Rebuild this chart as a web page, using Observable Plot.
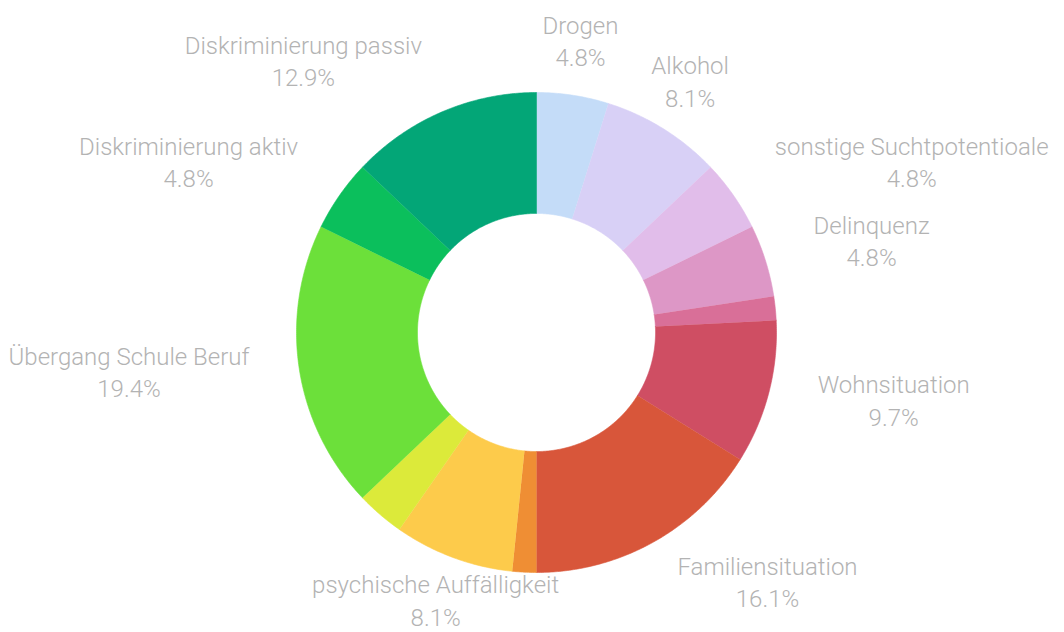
<!DOCTYPE html>
<html><head><meta charset="utf-8">
<script src="https://cdn.jsdelivr.net/npm/d3@7"></script>
<script src="https://cdn.jsdelivr.net/npm/@observablehq/plot@0.6"></script>
<style>body{margin:0;background:#fff;} #chart svg{display:block;}</style>
</head><body><div id="chart"></div>
<script>
// ---- data ----
const categories = ["Drogen","Alkohol","sonstige Suchtpotentioale","Delinquenz","weitere (1)","Wohnsituation","Familiensituation","weitere (2)","psychische Auffälligkeit","weitere (3)","Übergang Schule Beruf","Diskriminierung aktiv","Diskriminierung passiv"];
const counts = [3,5,3,3,1,6,10,1,5,2,12,3,8];
const labeled = [true,true,true,true,false,true,true,false,true,false,true,true,true];

// ---- style / layout ----
const colors = ["#c4dcf8","#d8d0f6","#e1bdea","#dd97c6","#d96f98","#cf4e63","#d8563a","#ef8e34","#fdcb4b","#dcea3a","#6ce03a","#0bbf5c","#03a677"];
const labelAnchor = ["middle","middle","start","start",null,"start","start",null,"middle",null,"end","end","end"];
const cx = 536, cy = 332, R = 240, inner = 0.496, labelR = 1.21;
const fontSize = 24, fontFamily = "Roboto, 'Open Sans', sans-serif", fontWeight = 300;

const total = d3.sum(counts);
let acc = 0;
const slices = categories.map((c, i) => {
  const a0 = acc / total * 2 * Math.PI;
  acc += counts[i];
  const a1 = acc / total * 2 * Math.PI;
  return {cat: c, i, a0, a1, mid: (a0 + a1) / 2, pct: (counts[i] / total * 100).toFixed(1) + "%"};
});

const pts = [];
for (const s of slices) {
  const n = Math.max(4, Math.ceil((s.a1 - s.a0) / (Math.PI / 360)));
  for (let k = 0; k <= n; k++) {
    const a = s.a0 + (s.a1 - s.a0) * k / n;
    pts.push({cat: s.cat, x: Math.sin(a), y: Math.cos(a)});
  }
  for (let k = n; k >= 0; k--) {
    const a = s.a0 + (s.a1 - s.a0) * k / n;
    pts.push({cat: s.cat, x: inner * Math.sin(a), y: inner * Math.cos(a)});
  }
}

// measure label blocks so both lines are centred on each other
const ctx = document.createElement("canvas").getContext("2d");
ctx.font = `${fontWeight} ${fontSize}px ${fontFamily}`;
const labels = slices.filter(s => labeled[s.i]).map(s => {
  const w = Math.max(ctx.measureText(s.cat).width, ctx.measureText(s.pct).width);
  const a = labelAnchor[s.i];
  const shift = a === "start" ? w / 2 : a === "end" ? -w / 2 : 0;
  return {
    x: labelR * Math.sin(s.mid) + shift / R,
    y: labelR * Math.cos(s.mid),
    text: s.cat + "\n" + s.pct
  };
});

const chart = Plot.plot({
  width: 1064, height: 632, margin: 0,
  x: {domain: [-1, 1], range: [cx - R, cx + R], axis: null},
  y: {domain: [-1, 1], range: [cy + R, cy - R], axis: null},
  color: {domain: categories, range: colors},
  style: {background: "#fff"},
  marks: [
    Plot.line(pts, {x: "x", y: "y", z: "cat", fill: "cat", stroke: "cat", strokeWidth: 0.6, curve: "linear"}),
    Plot.text(labels, {x: "x", y: "y", text: "text", textAnchor: "middle", dy: -6, fontSize, fill: "#b3b3b3", lineHeight: 1.36, fontFamily, fontWeight})
  ]
});
document.getElementById("chart").append(chart);
</script>
</body></html>
